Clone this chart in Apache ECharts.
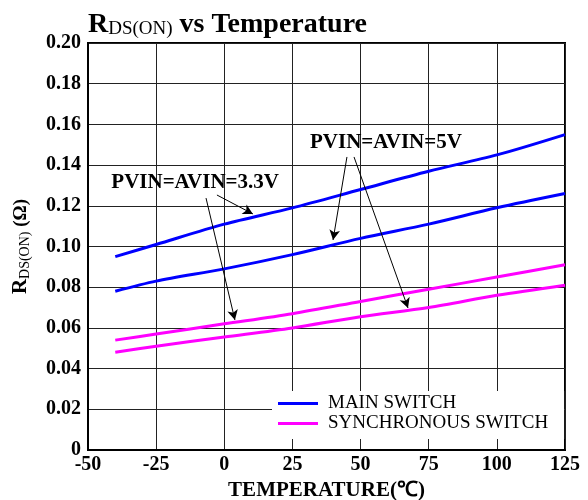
<!DOCTYPE html>
<html>
<head>
<meta charset="utf-8">
<script src="https://cdn.jsdelivr.net/npm/echarts@6/dist/echarts.min.js"></script>
<style>html,body{margin:0;padding:0;background:#fff}#c{width:588px;height:500px}</style>
</head>
<body>
<div id="c"></div>
<script>
var temps = [-40, -25, 0, 25, 50, 75, 100, 125];
var main33 = [0.095, 0.101, 0.111, 0.119, 0.128, 0.137, 0.145, 0.155];
var main5  = [0.078, 0.083, 0.089, 0.096, 0.104, 0.111, 0.119, 0.126];
var sync33 = [0.054, 0.057, 0.062, 0.067, 0.073, 0.079, 0.085, 0.091];
var sync5  = [0.048, 0.051, 0.0555, 0.060, 0.0655, 0.070, 0.076, 0.081];
var seriesNames = ['MAIN SWITCH', 'SYNCHRONOUS SWITCH'];
var annotText = ['PVIN=AVIN=3.3V', 'PVIN=AVIN=5V'];
var annotPos = [[-10.7, 0.1312], [59.3, 0.1509]];
var arrows = [
  [[-2.7, 0.1253], [10.5, 0.1160]],
  [[-6.7, 0.1238], [3.9, 0.0639]],
  [[45.0, 0.1440], [39.9, 0.1032]],
  [[47.6, 0.1440], [67.4, 0.0698]]
];
var SERIF = '"Liberation Serif","Times New Roman",serif';
function pairs(xs, ys){ return xs.map(function(x,i){ return [x, ys[i]]; }); }
var chart = echarts.init(document.getElementById('c'));
var lineBase = { type:'line', symbol:'none', smooth:0.3, lineStyle:{width:3}, z:3 };
chart.setOption({
  animation:false,
  backgroundColor:'#fff',
  title:{
    text:'{r|R}{s|DS(ON)}{r| vs Temperature}',
    left:83, top:5,
    textStyle:{ rich:{
      r:{fontFamily:SERIF, fontWeight:'bold', fontSize:28, color:'#000'},
      s:{fontFamily:SERIF, fontWeight:'normal', fontSize:19, color:'#000', verticalAlign:'bottom', padding:[10,0,0,0]}
    }}
  },
  grid:{ left:88, right:23, top:43, bottom:50, show:true, borderColor:'#000', borderWidth:2,
    backgroundColor:'transparent', containLabel:false, outerBoundsMode:'none' },
  legend:{
    data:seriesNames.map(function(n){ return {name:n, icon:'rect'}; }),
    orient:'vertical', left:272, top:391,
    backgroundColor:'#fff', padding:[3,16,6,6], itemGap:1,
    itemWidth:40, itemHeight:3,
    textStyle:{fontFamily:SERIF, fontSize:19, color:'#000', padding:[0,0,0,5]}
  },
  xAxis:{
    type:'value', min:-50, max:125, interval:25,
    name:'TEMPERATURE(℃)', nameLocation:'middle', nameGap:28,
    nameTextStyle:{fontFamily:SERIF, fontWeight:'bold', fontSize:21, color:'#000'},
    axisLine:{show:true, onZero:false, lineStyle:{color:'#000', width:2}},
    axisTick:{show:false},
    axisLabel:{fontFamily:SERIF, fontWeight:'bold', fontSize:20, color:'#000', margin:5},
    splitLine:{show:true, lineStyle:{color:'#222', width:1, type:'solid'}}
  },
  yAxis:{
    type:'value', min:0, max:0.2, interval:0.02,
    name:'{r|R}{s|DS(ON)}{b| (Ω)}', nameLocation:'middle', nameGap:56, nameRotate:90,
    nameTextStyle:{ rich:{
      r:{fontFamily:SERIF, fontWeight:'bold', fontSize:21, color:'#000'},
      s:{fontFamily:SERIF, fontWeight:'normal', fontSize:14, color:'#000', verticalAlign:'bottom', padding:[8,0,0,0]},
      b:{fontFamily:SERIF, fontWeight:'bold', fontSize:19, color:'#000'}
    }},
    axisLine:{show:true, onZero:false, lineStyle:{color:'#000', width:2}},
    axisTick:{show:false},
    axisLabel:{fontFamily:SERIF, fontWeight:'bold', fontSize:20, color:'#000', margin:7,
      formatter:function(v){ return v === 0 ? '0' : v.toFixed(2); }},
    splitLine:{show:true, lineStyle:{color:'#222', width:1, type:'solid'}}
  },
  series:[
    Object.assign({}, lineBase, {name:seriesNames[0], data:pairs(temps, main33), color:'#0000ff',
      markLine:{
        silent:true, symbol:['none','arrow'], symbolSize:[8,10], animation:false,
        lineStyle:{color:'#000', width:1, type:'solid'}, label:{show:false},
        emphasis:{disabled:true},
        data:arrows.map(function(a){ return [{coord:a[0]},{coord:a[1]}]; })
      },
      markPoint:{
        silent:true, symbol:'rect', symbolSize:1, itemStyle:{color:'rgba(0,0,0,0)'},
        label:{show:true, position:'inside', color:'#000', fontFamily:SERIF, fontWeight:'bold', fontSize:21,
          formatter:function(p){ return p.name; }},
        data:annotPos.map(function(c,i){ return {name:annotText[i], coord:c}; })
      }
    }),
    Object.assign({}, lineBase, {name:seriesNames[0], data:pairs(temps, main5), color:'#0000ff'}),
    Object.assign({}, lineBase, {name:seriesNames[1], data:pairs(temps, sync33), color:'#ff00ff'}),
    Object.assign({}, lineBase, {name:seriesNames[1], data:pairs(temps, sync5), color:'#ff00ff'})
  ]
});
</script>
</body>
</html>
